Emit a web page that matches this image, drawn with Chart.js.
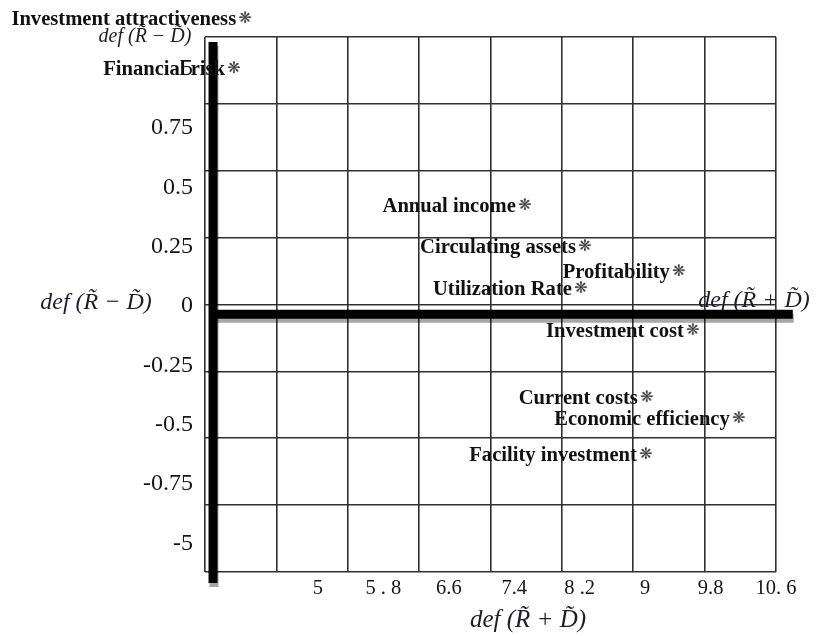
<!DOCTYPE html>
<html>
<head>
<meta charset="utf-8">
<script src="https://cdn.jsdelivr.net/npm/chart.js@4/dist/chart.umd.min.js"></script>
<style>
  html, body { margin: 0; padding: 0; background: #ffffff; }
  #wrap { width: 829px; height: 636px; }
</style>
</head>
<body>
<div id="wrap"><canvas id="chart" width="829" height="636"></canvas></div>
<script>
// Factors and their (R+D, R-D) coordinates
const factors = [
  'Investment attractiveness', 'Financial risk', 'Annual income', 'Circulating assets',
  'Profitability', 'Utilization Rate', 'Investment cost', 'Current costs',
  'Economic efficiency', 'Facility investment'
];
const rPlusD  = [4.65, 4.525, 7.785, 8.458, 9.511, 8.413, 9.668, 9.152, 10.183, 9.141];
const rMinusD = [1.071, 0.884, 0.372, 0.219, 0.125, 0.062, -0.095, -0.346, -0.424, -0.559];

// Tick labels as printed on the axes
const xTickValues = [5, 5.8, 6.6, 7.4, 8.2, 9, 9.8, 10.6];
const xTickText   = ['5', '5 . 8', '6.6', '7.4', '8 .2', '9', '9.8', '10. 6'];
const yTickValues = [-1, -0.75, -0.5, -0.25, 0, 0.25, 0.5, 0.75, 1];
const yTickText   = ['-5', '-0.75', '-0.5', '-0.25', '0', '0.25', '0.5', '0.75', '5'];

// Heavy cause/effect axes
const axisRplusD  = [{ x: 4.245, y: -0.036 }, { x: 10.788, y: -0.036 }];
const axisRminusD = [{ x: 4.29, y: 0.981 }, { x: 4.29, y: -1.041 }];

const SERIF = '"Liberation Serif", "Times New Roman", serif';

// Marker glyph rendered once onto a small canvas
function makeGlyph() {
  const c = document.createElement('canvas');
  c.width = 16; c.height = 16;
  const g = c.getContext('2d');
  g.fillStyle = '#383838';
  g.font = '16px "DejaVu Sans"';
  g.textAlign = 'center';
  g.textBaseline = 'middle';
  g.fillText('\u274B', 8, 8.5);
  return c;
}
const glyph = makeGlyph();

const gridStyle = { color: '#303030', lineWidth: 1.6, drawTicks: false };

const barShadow = {
  id: 'barShadow',
  beforeDatasetDraw(chart, args) {
    if (args.index < 2) {
      const ctx = chart.ctx;
      ctx.save();
      ctx.shadowColor = 'rgba(0,0,0,0.35)';
      ctx.shadowOffsetX = 1;
      ctx.shadowOffsetY = 4;
      ctx.shadowBlur = 0;
    }
  },
  afterDatasetDraw(chart, args) {
    if (args.index < 2) chart.ctx.restore();
  }
};

const axisTitles = {
  id: 'axisTitles',
  beforeDatasetsDraw(chart) {
    const ctx = chart.ctx;
    const a = chart.chartArea;
    const y0 = chart.scales.y.getPixelForValue(0);
    ctx.save();
    ctx.fillStyle = '#1e1e2a';
    ctx.textBaseline = 'middle';
    ctx.textAlign = 'center';
    ctx.font = 'italic 20px ' + SERIF;
    ctx.fillText('def (R\u0303 \u2212 D\u0303)', a.left - 60, a.top);
    ctx.font = 'italic 24px ' + SERIF;
    ctx.fillText('def (R\u0303 \u2212 D\u0303)', 96, y0 - 2);
    ctx.fillText('def (R\u0303 + D\u0303)', a.right - 22, y0 - 4);
    ctx.font = 'italic 25px ' + SERIF;
    ctx.fillText('def (R\u0303 + D\u0303)', 528, 620);
    ctx.restore();
  }
};

// Factor names to the left of each marker; markers pushed past the
// plot frame by their value are drawn here as well
const pointLabels = {
  id: 'pointLabels',
  afterDatasetsDraw(chart) {
    const ctx = chart.ctx;
    const a = chart.chartArea;
    const meta = chart.getDatasetMeta(2);
    ctx.save();
    ctx.fillStyle = '#111111';
    ctx.font = 'bold 20.6px ' + SERIF;
    ctx.textAlign = 'right';
    ctx.textBaseline = 'alphabetic';
    meta.data.forEach((el, i) => {
      ctx.fillText(factors[i], el.x - 9, el.y + 7);
      const outside = el.x < a.left || el.x > a.right || el.y < a.top || el.y > a.bottom;
      if (outside) ctx.drawImage(glyph, el.x - glyph.width / 2, el.y - glyph.height / 2);
    });
    ctx.restore();
  }
};

new Chart(document.getElementById('chart'), {
  type: 'scatter',
  data: {
    datasets: [
      { data: axisRplusD, showLine: true, borderColor: '#000', borderWidth: 9,
        pointRadius: 0, clip: false, xAxisID: 'x', yAxisID: 'y' },
      { data: axisRminusD, showLine: true, borderColor: '#000', borderWidth: 9,
        pointRadius: 0, clip: false, xAxisID: 'x', yAxisID: 'y' },
      { data: factors.map((n, i) => ({ x: rPlusD[i], y: rMinusD[i] })),
        pointStyle: glyph, pointRadius: 8, clip: false, showLine: false,
        xAxisID: 'x', yAxisID: 'y' }
    ]
  },
  options: {
    responsive: false,
    animation: false,
    events: [],
    layout: { padding: { top: 37, right: 53, left: 0, bottom: 0 } },
    plugins: { legend: { display: false }, tooltip: { enabled: false } },
    scales: {
      x: {
        type: 'linear', position: 'bottom', min: 4.2, max: 10.6,
        ticks: { display: false, stepSize: 0.8 },
        grid: gridStyle, border: { display: false },
        afterFit(s) { s.height = 0; }
      },
      xLab: {
        type: 'linear', position: 'bottom', min: 3.619, max: 10.6,
        grid: { display: false, drawTicks: false }, border: { display: false },
        afterBuildTicks(s) { s.ticks = xTickValues.map(v => ({ value: v })); },
        ticks: {
          autoSkip: false, maxRotation: 0, padding: 4, color: '#151515',
          font: { family: SERIF, size: 20.5 },
          callback: (v, i) => xTickText[i]
        },
        afterFit(s) { s.height = 64; }
      },
      y: {
        type: 'linear', position: 'left', min: -1, max: 1,
        ticks: { display: false, stepSize: 0.25 },
        grid: gridStyle, border: { display: false },
        afterFit(s) { s.width = 0; }
      },
      yLab: {
        type: 'linear', position: 'left', min: -1.121, max: 1.133,
        grid: { display: false, drawTicks: false }, border: { display: false },
        afterBuildTicks(s) { s.ticks = yTickValues.map(v => ({ value: v })); },
        ticks: {
          autoSkip: false, padding: 12, color: '#151515',
          font: { family: SERIF, size: 24 },
          callback: (v, i) => yTickText[i]
        },
        afterFit(s) { s.width = 205; }
      }
    }
  },
  plugins: [barShadow, axisTitles, pointLabels]
});
</script>
</body>
</html>
